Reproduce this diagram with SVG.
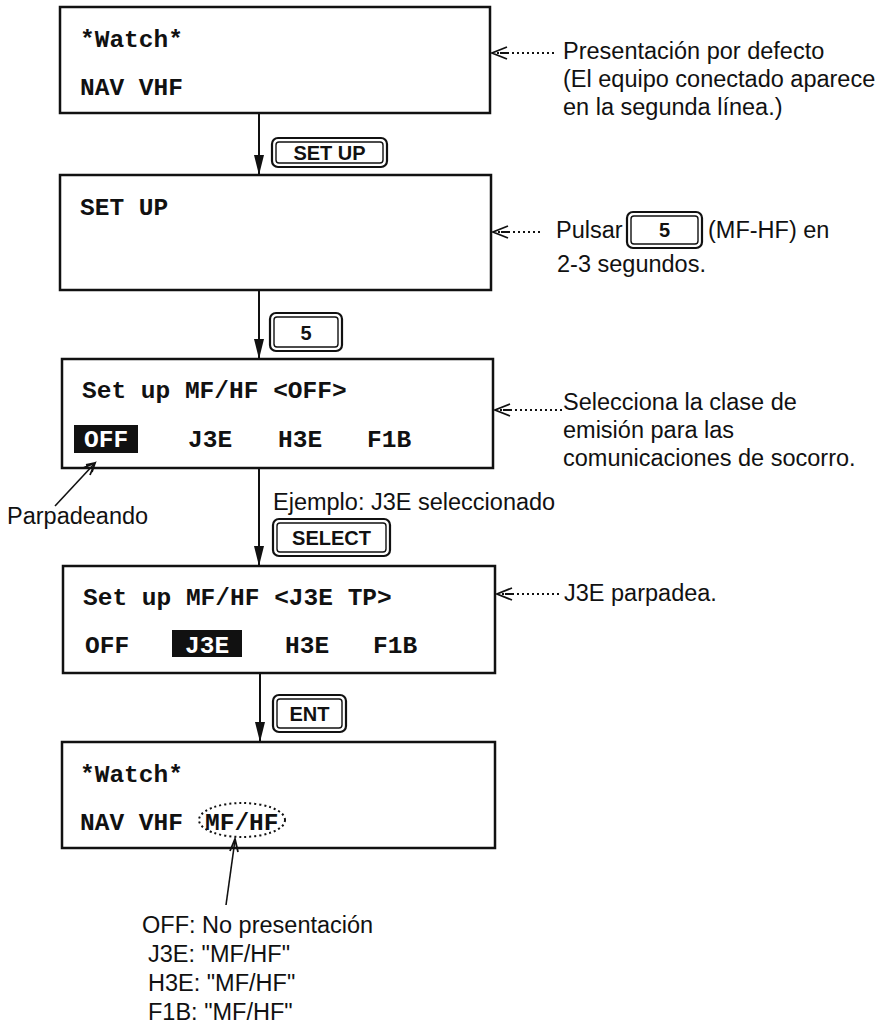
<svg xmlns="http://www.w3.org/2000/svg" width="885" height="1025" viewBox="0 0 885 1025">
  <defs>
    <style>
      .screen { fill: #fff; stroke: #111; stroke-width: 2.5; }
      .lcd { font-family: "Liberation Mono", "DejaVu Sans Mono", monospace; font-weight: bold; font-size: 24.5px; fill: #111; }
      .lcd-inv { fill: #fff; }
      .hl { fill: #111; }
      .note { font-family: "Liberation Sans", Arial, sans-serif; font-size: 23.5px; fill: #111; }
      .key-out { fill: #fff; stroke: #111; stroke-width: 2.2; }
      .key-in { fill: none; stroke: #111; stroke-width: 1.4; }
      .key-txt { font-family: "Liberation Sans", Arial, sans-serif; font-weight: bold; font-size: 20px; fill: #111; text-anchor: middle; }
      .flow { stroke: #111; stroke-width: 2; fill: none; }
      .dots { stroke: #111; stroke-width: 2; stroke-dasharray: 2 3; fill: none; }
      .vhead { stroke: #111; stroke-width: 1.8; fill: none; stroke-linejoin: miter; }
      .lead { stroke: #111; stroke-width: 1.6; fill: none; }
    </style>
    <!-- solid arrowhead for the flow lines, drawn along +x so orient="auto" turns it -->
    <marker id="down" viewBox="0 0 20 10" refX="20" refY="5" markerWidth="20" markerHeight="10" markerUnits="userSpaceOnUse" orient="auto">
      <path d="M0,0 L20,5 L0,10 Z" fill="#111"/>
    </marker>
  </defs>

  <!-- Screen 1: default watch display -->
  <g id="screen-watch">
    <rect class="screen" x="60" y="7" width="430" height="106"/>
    <text class="lcd" x="80" y="47">*Watch*</text>
    <text class="lcd" x="80" y="95">NAV VHF</text>
  </g>

  <!-- Screen 2: SET UP -->
  <g id="screen-setup">
    <rect class="screen" x="60" y="175" width="431" height="115"/>
    <text class="lcd" x="80" y="215">SET UP</text>
  </g>

  <!-- Screen 3: MF/HF class selection, OFF highlighted -->
  <g id="screen-mfhf-off">
    <rect class="screen" x="62" y="359" width="431" height="109"/>
    <text class="lcd" x="82" y="398">Set up MF/HF &lt;OFF&gt;</text>
    <rect class="hl" x="74" y="425" width="64" height="28"/>
    <text class="lcd lcd-inv" x="84" y="447">OFF</text>
    <text class="lcd" x="188" y="447">J3E</text>
    <text class="lcd" x="278" y="447">H3E</text>
    <text class="lcd" x="367" y="447">F1B</text>
  </g>

  <!-- Screen 4: J3E selected -->
  <g id="screen-mfhf-j3e">
    <rect class="screen" x="63" y="566" width="432" height="107"/>
    <text class="lcd" x="83" y="605">Set up MF/HF &lt;J3E TP&gt;</text>
    <text class="lcd" x="85" y="653">OFF</text>
    <rect class="hl" x="172" y="630" width="70" height="27"/>
    <text class="lcd lcd-inv" x="185" y="653">J3E</text>
    <text class="lcd" x="285" y="653">H3E</text>
    <text class="lcd" x="373" y="653">F1B</text>
  </g>

  <!-- Screen 5: watch display with MF/HF -->
  <g id="screen-watch-mfhf">
    <rect class="screen" x="62" y="742" width="433" height="106"/>
    <text class="lcd" x="80" y="782">*Watch*</text>
    <text class="lcd" x="80" y="830">NAV VHF</text>
    <text class="lcd" x="205" y="830">MF/HF</text>
    <ellipse cx="242" cy="820" rx="43" ry="17" class="dots" stroke-width="1.8"/>
  </g>

  <!-- Keys -->
  <g id="key-setup">
    <rect class="key-out" x="272" y="138" width="115" height="29" rx="6"/>
    <rect class="key-in" x="276" y="142" width="107" height="21" rx="3"/>
    <text class="key-txt" x="329.5" y="160">SET UP</text>
  </g>
  <g id="key-5">
    <rect class="key-out" x="270" y="313" width="72" height="38" rx="6"/>
    <rect class="key-in" x="274" y="317" width="64" height="30" rx="3"/>
    <text class="key-txt" x="306" y="340">5</text>
  </g>
  <g id="key-select">
    <rect class="key-out" x="273" y="519" width="117" height="37" rx="6"/>
    <rect class="key-in" x="277" y="523" width="109" height="29" rx="3"/>
    <text class="key-txt" x="331.5" y="545">SELECT</text>
  </g>
  <g id="key-ent">
    <rect class="key-out" x="273" y="695" width="73" height="37" rx="6"/>
    <rect class="key-in" x="277" y="699" width="65" height="29" rx="3"/>
    <text class="key-txt" x="309.5" y="721">ENT</text>
  </g>

  <!-- Flow connectors between screens -->
  <g id="connectors">
    <line class="flow" x1="259" y1="113" x2="259" y2="175" marker-end="url(#down)"/>
    <line class="flow" x1="259" y1="290" x2="259" y2="359" marker-end="url(#down)"/>
    <line class="flow" x1="259" y1="468" x2="259" y2="566" marker-end="url(#down)"/>
    <line class="flow" x1="260" y1="673" x2="260" y2="742" marker-end="url(#down)"/>

    <!-- dotted callouts -->
    <line class="dots" x1="497" y1="53" x2="557" y2="53"/>
    <path class="vhead" d="M507,47 L492,53 L507,59 M500,53 L507,53"/>
    <line class="dots" x1="498" y1="232" x2="540" y2="232"/>
    <path class="vhead" d="M508,226 L493,232 L508,238 M501,232 L508,232"/>
    <line class="dots" x1="500" y1="410" x2="562" y2="410"/>
    <path class="vhead" d="M510,404 L495,410 L510,416 M503,410 L510,410"/>
    <line class="dots" x1="502" y1="594" x2="562" y2="594"/>
    <path class="vhead" d="M512,588 L497,594 L512,600 M505,594 L512,594"/>

    <!-- pointer lines -->
    <line class="lead" x1="55" y1="506" x2="95" y2="463"/>
    <path class="vhead" d="M83,468 L95,463 L90,475 M86,465 L95,463 L92,472"/>
    <line class="lead" x1="226" y1="905" x2="235" y2="840"/>
    <path class="vhead" d="M230,851 L235,839 L238,852"/>
  </g>

  <!-- Notes -->
  <g id="note-default">
    <text class="note" x="563" y="59">Presentación por defecto</text>
    <text class="note" x="563" y="87">(El equipo conectado aparece</text>
    <text class="note" x="563" y="115">en la segunda línea.)</text>
  </g>
  <g id="note-press5">
    <text class="note" x="556" y="238">Pulsar</text>
    <rect class="key-out" x="627" y="212" width="75" height="36" rx="6"/>
    <rect class="key-in" x="631" y="216" width="67" height="28" rx="3"/>
    <text class="key-txt" x="664.5" y="237">5</text>
    <text class="note" x="708" y="238">(MF-HF) en</text>
    <text class="note" x="557" y="272">2-3 segundos.</text>
  </g>
  <g id="note-select">
    <text class="note" x="563" y="410">Selecciona la clase de</text>
    <text class="note" x="563" y="438">emisión para las</text>
    <text class="note" x="563" y="466">comunicaciones de socorro.</text>
  </g>
  <g id="note-blink">
    <text class="note" x="7" y="524" font-size="24.5">Parpadeando</text>
  </g>
  <g id="note-example">
    <text class="note" x="273" y="510" font-size="25.5">Ejemplo: J3E seleccionado</text>
  </g>
  <g id="note-j3e">
    <text class="note" x="564" y="601">J3E parpadea.</text>
  </g>
  <g id="note-display">
    <text class="note" x="142" y="933" font-size="24">OFF: No presentación</text>
    <text class="note" x="148" y="962" font-size="24">J3E: "MF/HF"</text>
    <text class="note" x="148" y="991" font-size="24">H3E: "MF/HF"</text>
    <text class="note" x="148" y="1020" font-size="24">F1B: "MF/HF"</text>
  </g>
</svg>
